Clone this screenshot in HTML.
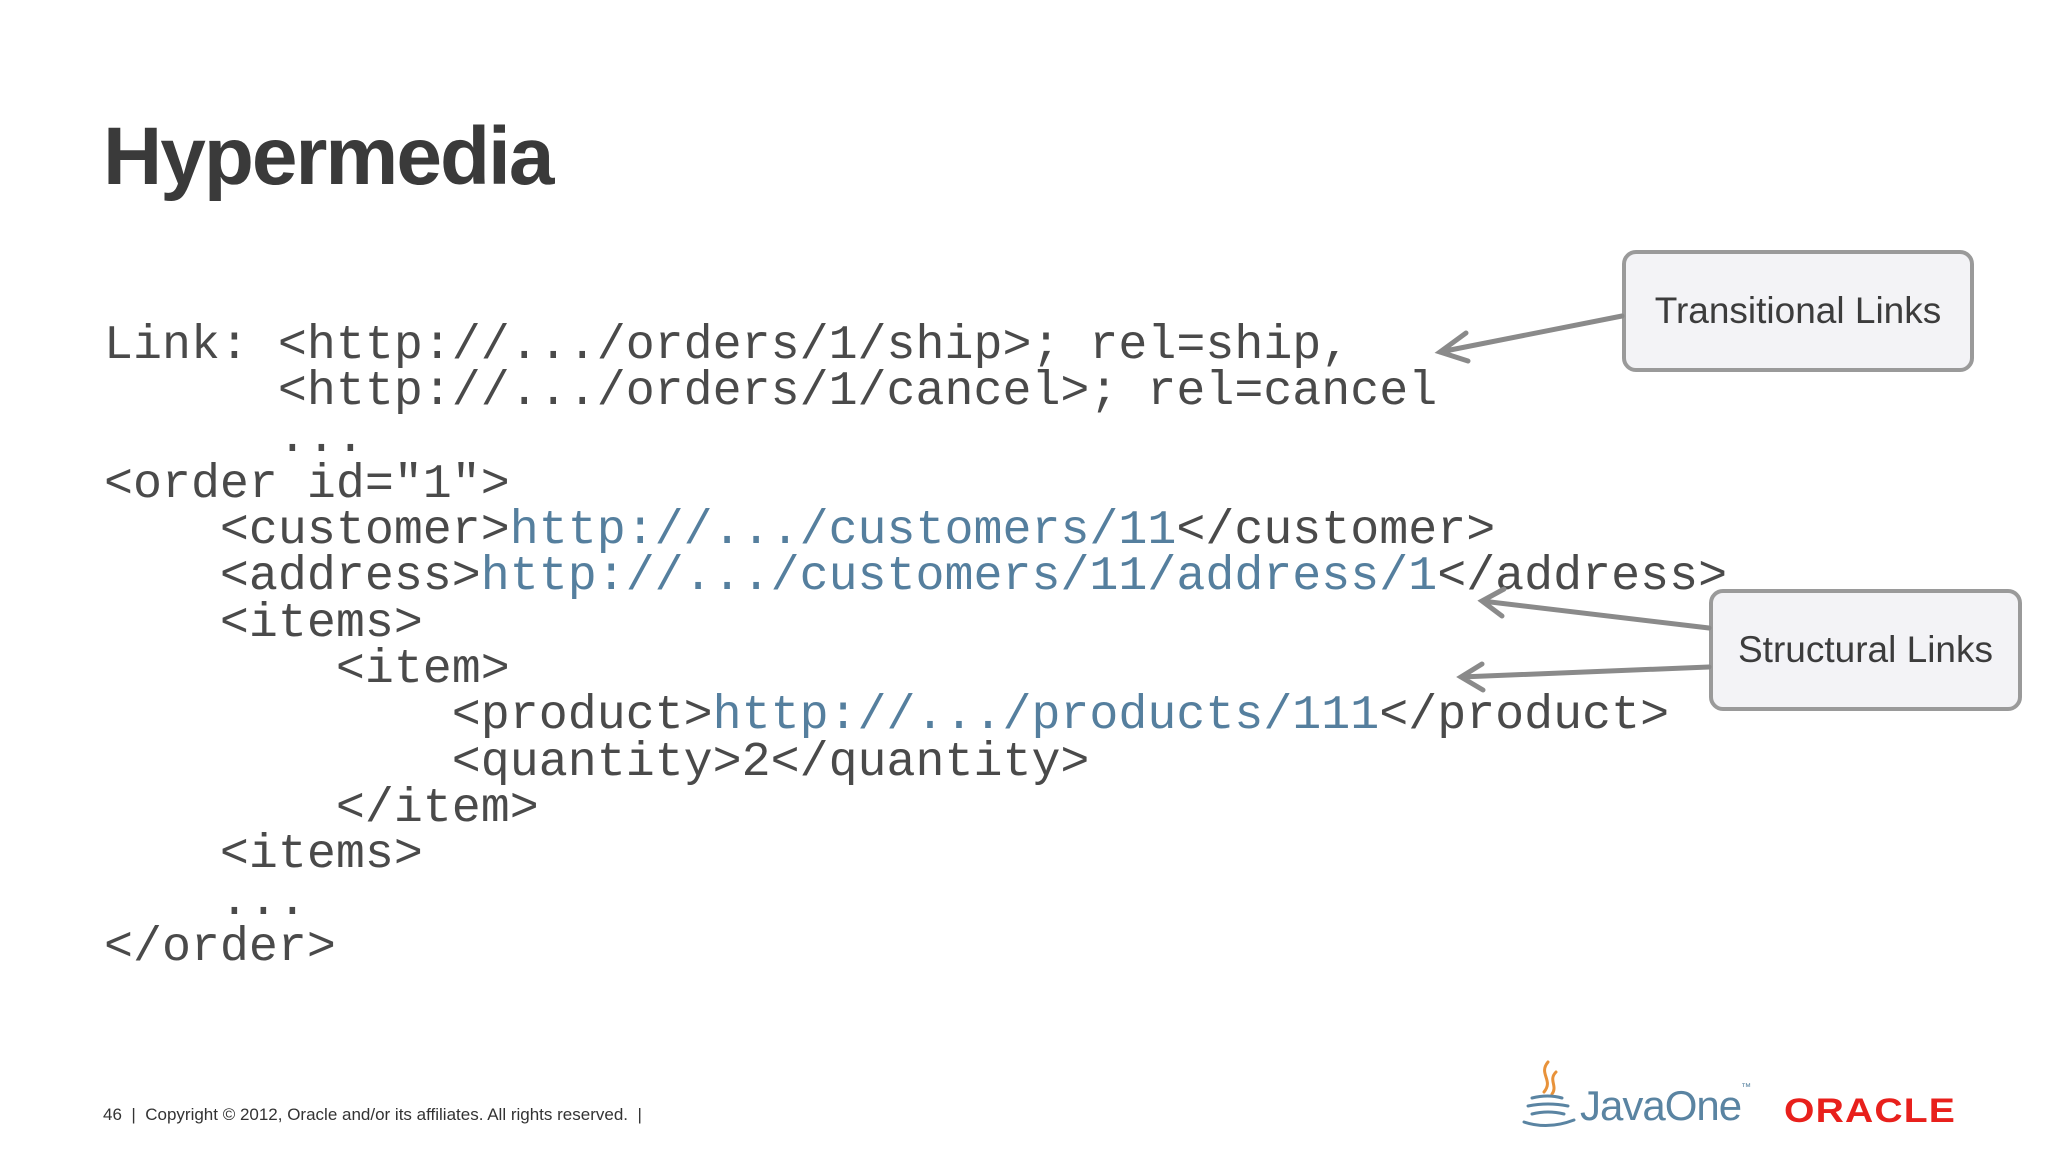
<!DOCTYPE html>
<html><head><meta charset="utf-8"><style>
html,body{margin:0;padding:0;width:2048px;height:1152px;background:#fff;overflow:hidden;position:relative}
.t{position:absolute;left:103px;top:110px;font:bold 82px "Liberation Sans",sans-serif;color:#3a3a3a;letter-spacing:-2px}
.c{position:absolute;left:104px;top:323px;font:48.3px/46.3px "Liberation Mono",monospace;color:#4a4a4a;white-space:pre;margin:0}
.l{color:#557f9e}
.box{position:absolute;border:4px solid #9a9a9a;border-radius:14px;background:#f3f3f6;font:37px "Liberation Sans Narrow","Liberation Sans",sans-serif;color:#3c3c3c;display:flex;align-items:center;justify-content:center;box-sizing:border-box}
.f{position:absolute;left:103px;top:1105px;font:17px "Liberation Sans",sans-serif;color:#333}
</style></head><body>
<div class="t">Hypermedia</div>
<pre class="c">Link: &lt;http://.../orders/1/ship&gt;; rel=ship,
      &lt;http://.../orders/1/cancel&gt;; rel=cancel
      ...
&lt;order id="1"&gt;
    &lt;customer&gt;<span class="l">http://.../customers/11</span>&lt;/customer&gt;
    &lt;address&gt;<span class="l">http://.../customers/11/address/1</span>&lt;/address&gt;
    &lt;items&gt;
        &lt;item&gt;
            &lt;product&gt;<span class="l">http://.../products/111</span>&lt;/product&gt;
            &lt;quantity&gt;2&lt;/quantity&gt;
        &lt;/item&gt;
    &lt;items&gt;
    ...
&lt;/order&gt;</pre>
<div class="box" style="left:1622px;top:250px;width:352px;height:122px">Transitional Links</div>
<div class="box" style="left:1709px;top:589px;width:313px;height:122px">Structural Links</div>
<svg width="2048" height="1152" style="position:absolute;left:0;top:0" fill="none" stroke="#8a8a8a" stroke-width="5" stroke-linecap="round">
<path d="M1622 316 L1440 352 M1466 333 L1440 352 L1468 361"/>
<path d="M1709 628 L1482 601 M1504 589 L1482 601 L1502 616"/>
<path d="M1709 667 L1461 677 M1482 664 L1461 677 L1483 690"/>
</svg>
<div class="f">46 &nbsp;|&nbsp; Copyright © 2012, Oracle and/or its affiliates. All rights reserved. &nbsp;|</div>
<svg style="position:absolute;left:1518px;top:1058px" width="60" height="76" fill="none" stroke-linecap="round">
<path d="M30 4 C20 16 36 22 26 34 M38 14 C30 22 40 28 34 36" stroke="#e8923a" stroke-width="3"/>
<path d="M14 40 Q30 36 44 40 M10 48 Q30 44 50 48 M14 56 Q30 52 46 56 M6 64 Q30 72 56 62" stroke="#5a84a2" stroke-width="3"/>
</svg>
<div style="position:absolute;left:1580px;top:1082px;font:42px 'Liberation Sans Narrow','Liberation Sans',sans-serif;color:#5a84a2;letter-spacing:-1px">JavaOne<span style="font-size:10px;vertical-align:top">™</span></div>
<div style="position:absolute;left:1784px;top:1092px;font:bold 34px 'Liberation Sans',sans-serif;color:#e8201c;letter-spacing:1px;transform:scaleX(1.15);transform-origin:left">ORACLE</div>
</body></html>
